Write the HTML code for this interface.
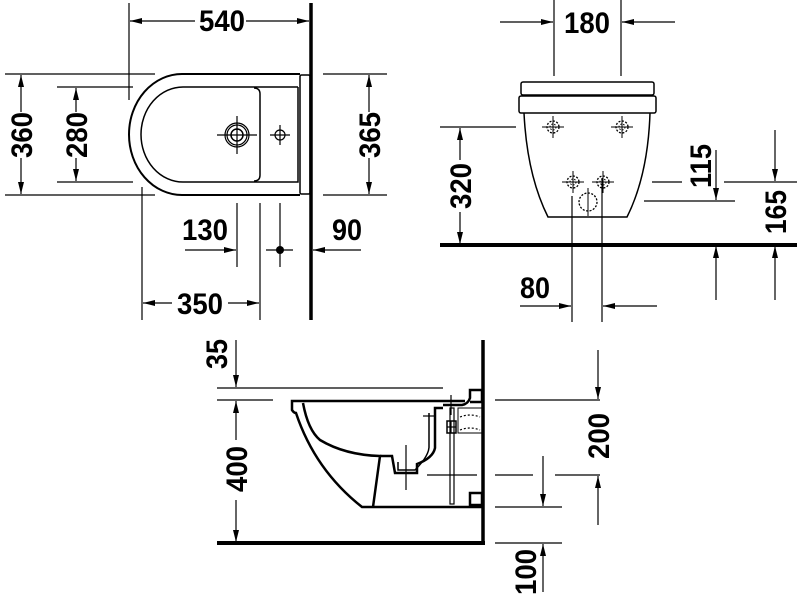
<!DOCTYPE html>
<html><head><meta charset="utf-8"><style>
html,body{margin:0;padding:0;background:#fff}
svg{display:block}
text{font-family:"Liberation Sans",sans-serif;font-weight:bold;font-size:30px;fill:#000}
</style></head><body>
<svg width="800" height="600" viewBox="0 0 800 600" xmlns="http://www.w3.org/2000/svg">
<defs>
<marker id="a" viewBox="0 0 12 6" refX="12" refY="3" markerWidth="12" markerHeight="6" markerUnits="userSpaceOnUse" orient="auto"><path d="M0,0 L12,3 L0,6 z" fill="#000"/></marker>
<g id="mk"><line x1="-11" y1="0" x2="11" y2="0" stroke="#000" stroke-width="1"/><line x1="0" y1="-11" x2="0" y2="11" stroke="#000" stroke-width="1"/><circle r="6" fill="none" stroke="#000" stroke-width="1.3" stroke-dasharray="2,1.5"/><circle r="3" fill="none" stroke="#000" stroke-width="1" stroke-dasharray="1.5,1.5"/></g>
</defs>
<g stroke="#000" stroke-width="1.2" fill="none">
<!-- TOP LEFT -->
<line x1="311" y1="3" x2="311" y2="320" stroke-width="3.5"/>
<line x1="129" y1="3" x2="129" y2="100"/>
<line x1="195" y1="21" x2="130" y2="21" marker-end="url(#a)"/>
<line x1="246" y1="21" x2="309" y2="21" marker-end="url(#a)"/>
<path d="M300,74 H182 A53,60.5 0 0 0 182,195 H300" stroke-width="2"/>
<rect x="300" y="75" width="10" height="119" rx="1.5" stroke-width="1.5"/>
<path d="M298,87 H183 A42,47.5 0 0 0 183,182 H298 V87" stroke-width="1.5"/>
<path d="M254,88 Q260,88 260,94 V175 Q260,181 254,181" stroke-width="1.5"/>
<circle cx="237" cy="135" r="12"/><circle cx="237" cy="135" r="10"/><circle cx="237" cy="135" r="6" stroke-width="1.5"/>
<line x1="217" y1="135" x2="257" y2="135"/><line x1="237" y1="116" x2="237" y2="154"/>
<circle cx="280" cy="135" r="5"/><line x1="270" y1="135" x2="290" y2="135"/><line x1="280" y1="125" x2="280" y2="145"/>
<line x1="5" y1="74" x2="155" y2="74"/><line x1="5" y1="195" x2="155" y2="195"/>
<line x1="21" y1="112" x2="21" y2="75" marker-end="url(#a)"/><line x1="21" y1="158" x2="21" y2="194" marker-end="url(#a)"/>
<line x1="57" y1="87" x2="133" y2="87"/><line x1="57" y1="182" x2="133" y2="182"/>
<line x1="76" y1="112" x2="76" y2="88" marker-end="url(#a)"/><line x1="76" y1="158" x2="76" y2="181" marker-end="url(#a)"/>
<line x1="323" y1="74" x2="387" y2="74"/><line x1="323" y1="195" x2="387" y2="195"/>
<line x1="369" y1="112" x2="369" y2="75" marker-end="url(#a)"/><line x1="369" y1="158" x2="369" y2="194" marker-end="url(#a)"/>
<line x1="142" y1="187" x2="142" y2="320"/><line x1="260" y1="203" x2="260" y2="320"/>
<line x1="172" y1="303" x2="143" y2="303" marker-end="url(#a)"/><line x1="228" y1="303" x2="259" y2="303" marker-end="url(#a)"/>
<line x1="237" y1="203" x2="237" y2="267"/>
<line x1="185" y1="250" x2="236" y2="250" marker-end="url(#a)"/>
<line x1="280" y1="203" x2="280" y2="267"/><line x1="266" y1="250" x2="293" y2="250"/>
<line x1="361" y1="250" x2="313" y2="250" marker-end="url(#a)"/>
<!-- TOP RIGHT -->
<line x1="554" y1="0" x2="554" y2="76"/><line x1="621" y1="0" x2="621" y2="76"/>
<line x1="500" y1="22" x2="553" y2="22" marker-end="url(#a)"/><line x1="675" y1="22" x2="622" y2="22" marker-end="url(#a)"/>
<rect x="521" y="82" width="133" height="13" rx="2" stroke-width="1.5"/>
<rect x="519" y="96" width="137" height="17" rx="2" stroke-width="1.5"/>
<path d="M524,113 Q527,175 548,217 H627 Q648,175 650,113" stroke-width="1.5"/>
<line x1="440" y1="245" x2="797" y2="245" stroke-width="4"/>
<line x1="440" y1="127" x2="516" y2="127"/>
<line x1="460" y1="160" x2="460" y2="128" marker-end="url(#a)"/><line x1="460" y1="212" x2="460" y2="244" marker-end="url(#a)"/>
<line x1="572" y1="196" x2="572" y2="322"/><line x1="602" y1="178" x2="602" y2="322"/>
<line x1="520" y1="306" x2="571" y2="306" marker-end="url(#a)"/><line x1="657" y1="306" x2="603" y2="306" marker-end="url(#a)"/>
<line x1="652" y1="182" x2="682" y2="182"/><line x1="644" y1="201" x2="735" y2="201"/>
<line x1="716" y1="150" x2="716" y2="200" marker-end="url(#a)"/><line x1="716" y1="300" x2="716" y2="246" marker-end="url(#a)"/>
<line x1="724" y1="182" x2="797" y2="182"/>
<line x1="775" y1="130" x2="775" y2="181" marker-end="url(#a)"/><line x1="775" y1="300" x2="775" y2="246" marker-end="url(#a)"/>
<!-- BOTTOM -->
<line x1="483" y1="340" x2="483" y2="545" stroke-width="3.5"/>
<line x1="217" y1="543" x2="485" y2="543" stroke-width="4"/>
<line x1="236" y1="340" x2="236" y2="387" marker-end="url(#a)"/>
<line x1="217" y1="388" x2="443" y2="388"/>
<line x1="217" y1="400" x2="273" y2="400"/>
<line x1="236" y1="440" x2="236" y2="401" marker-end="url(#a)"/><line x1="236" y1="500" x2="236" y2="542" marker-end="url(#a)"/>
<path d="M465,401 H292 V410 Q294,413 296,413 Q315,470 362,507 H482" stroke-width="2.5"/>
<path d="M303,403 Q308,430 320,440 Q345,455 380,456 L373,507" stroke-width="2.5"/>
<path d="M380,456 H392 L395,473 H417 V464 Q433,458 435,448 V408 H443" stroke-width="2.5"/>
<path d="M398,462 V470 H415 Q430,455 429,445 V413" stroke-width="1.5"/>
<path d="M443,405 H462 Q468,404 470,398 V390 H482 V402 H470" stroke-width="2.5"/>
<rect x="470" y="493" width="12" height="12" stroke-width="2.5"/>
<rect x="458" y="408" width="24" height="25" stroke-width="1"/>
<rect x="447" y="421" width="9" height="12" stroke-width="1.5"/>
<line x1="447" y1="427" x2="456" y2="427"/><line x1="451" y1="421" x2="451" y2="433"/>
<path d="M460,417 Q470,413 480,417 M460,430 Q470,426 480,430" stroke-dasharray="2,2"/>
<rect x="450" y="408" width="4" height="96"/>
<line x1="427" y1="475" x2="477" y2="475"/><line x1="406" y1="445" x2="406" y2="490"/>
<line x1="451" y1="395" x2="451" y2="415"/><line x1="423" y1="416" x2="436" y2="416"/>
<line x1="495" y1="400" x2="600" y2="400"/><line x1="495" y1="475" x2="533" y2="475"/><line x1="555" y1="475" x2="600" y2="475"/>
<line x1="598" y1="350" x2="598" y2="399" marker-end="url(#a)"/><line x1="598" y1="525" x2="598" y2="476" marker-end="url(#a)"/>
<line x1="495" y1="507" x2="562" y2="507"/><line x1="495" y1="543" x2="562" y2="543"/>
<line x1="543" y1="456" x2="543" y2="506" marker-end="url(#a)"/><line x1="543" y1="592" x2="543" y2="544" marker-end="url(#a)"/>
</g>
<use href="#mk" x="553" y="127"/><use href="#mk" x="622" y="127"/>
<use href="#mk" x="573" y="182"/><use href="#mk" x="603" y="182"/>
<circle cx="588" cy="202" r="9" fill="none" stroke="#000" stroke-width="1.3" stroke-dasharray="2,1.5"/>
<line x1="588" y1="188" x2="588" y2="216" stroke="#000"/>
<circle cx="280" cy="250" r="4" fill="#000"/>
<g text-anchor="middle">
<text x="222" y="31" textLength="46" lengthAdjust="spacingAndGlyphs">540</text>
<text x="205" y="240" textLength="46" lengthAdjust="spacingAndGlyphs">130</text>
<text x="347" y="240" textLength="30" lengthAdjust="spacingAndGlyphs">90</text>
<text x="200" y="314" textLength="46" lengthAdjust="spacingAndGlyphs">350</text>
<text x="587" y="33" textLength="46" lengthAdjust="spacingAndGlyphs">180</text>
<text x="535" y="298" textLength="30" lengthAdjust="spacingAndGlyphs">80</text>
<text transform="translate(32,135) rotate(-90)" textLength="46" lengthAdjust="spacingAndGlyphs">360</text>
<text transform="translate(87,135) rotate(-90)" textLength="46" lengthAdjust="spacingAndGlyphs">280</text>
<text transform="translate(380,135) rotate(-90)" textLength="46" lengthAdjust="spacingAndGlyphs">365</text>
<text transform="translate(471,186) rotate(-90)" textLength="46" lengthAdjust="spacingAndGlyphs">320</text>
<text transform="translate(711,166) rotate(-90)" textLength="44" lengthAdjust="spacingAndGlyphs">115</text>
<text transform="translate(786,212) rotate(-90)" textLength="44" lengthAdjust="spacingAndGlyphs">165</text>
<text transform="translate(227,354) rotate(-90)" textLength="30" lengthAdjust="spacingAndGlyphs">35</text>
<text transform="translate(247,469) rotate(-90)" textLength="46" lengthAdjust="spacingAndGlyphs">400</text>
<text transform="translate(609,436) rotate(-90)" textLength="46" lengthAdjust="spacingAndGlyphs">200</text>
<text transform="translate(536,572) rotate(-90)" textLength="46" lengthAdjust="spacingAndGlyphs">100</text>
</g>
</svg>
</body></html>
